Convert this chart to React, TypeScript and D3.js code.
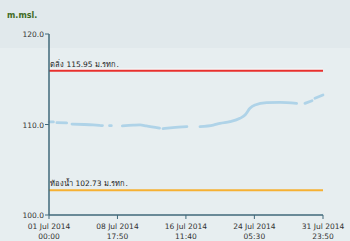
import React from "react";
import * as d3 from "d3";

const W = 350;
const H = 241;

const startDate = new Date(2014, 6, 1, 0, 0);
const endDate = new Date(2014, 6, 31, 23, 50);
const xTickDates = [
  new Date(2014, 6, 1, 0, 0),
  new Date(2014, 6, 8, 17, 50),
  new Date(2014, 6, 16, 11, 40),
  new Date(2014, 6, 24, 5, 30),
  new Date(2014, 6, 31, 23, 50),
];
const yTicks = [100, 110, 120];
const bankLevel = 115.95;
const bedLevel = 102.73;
const bankLabel = "ตลิ่ง 115.95 ม.รทก.";
const bedLabel = "ท้องน้ำ 102.73 ม.รทก.";
const unitLabel = "m.msl.";

// day offsets from 01 Jul 00:00, null = no data
const levelDays: number[] = [
  0, 0.5, 0.6, 0.9, 2.0, 2.1, 2.6, 4.0, 5.0, 5.7, 5.8, 5.85, 6.05, 6.2, 6.85, 7.05, 7.2,
  8.3, 9.5, 10.3, 11.0, 12.5, 12.7, 12.9, 14.0, 15.6, 15.8,
  17.08, 18.58, 19.34, 20.47, 21.6, 22.17, 22.73, 23.3, 24.62, 26.13, 28.01, 28.3,
  28.95, 29.75, 29.9, 30.08, 30.99,
];
const levelValues: (number | null)[] = [
  110.3, 110.28, null, 110.2, 110.17, null, 110.05, 110.0, 109.95, 109.9, null, 109.88, 109.88, null, 109.87, 109.87, null,
  109.85, 109.92, 109.95, 109.85, 109.6, null, 109.55, 109.65, 109.76, null,
  109.76, 109.94, 110.13, 110.31, 110.68, 111.05, 111.79, 112.15, 112.41, 112.45, 112.34, null,
  112.34, 112.63, null, 112.9, 113.26,
];

export default function App() {
  const left = 49;
  const right = 323;
  const top = 34;
  const bottom = 215;

  const x = d3.scaleTime().domain([startDate, endDate]).range([left, right]);
  const y = d3.scaleLinear().domain([100, 120]).range([bottom, top]);

  const pts = levelDays.map((d, i) => ({
    t: new Date(startDate.getTime() + d * 86400000),
    v: levelValues[i],
  }));
  const line = d3
    .line<{ t: Date; v: number | null }>()
    .defined((p) => p.v !== null)
    .x((p) => x(p.t))
    .y((p) => y(p.v as number))
    .curve(d3.curveMonotoneX);

  const fmtD = d3.timeFormat("%d %b %Y");
  const fmtT = d3.timeFormat("%H:%M");
  const font = "DejaVu Sans, Verdana, sans-serif";
  const axisColor = "#41697a";

  return (
    <svg
      width={W}
      height={H}
      style={{ position: "absolute", left: 0, top: 0 }}
      fontFamily={font}
    >
      <rect x={0} y={0} width={W} height={H} fill="#e7eef0" />
      <rect x={0} y={0} width={W} height={48} fill="#e1e9ec" />
      <text x={7} y={18} fontSize={8} fontWeight="bold" fill="#3f6b1f">
        {unitLabel}
      </text>

      {/* reference lines */}
      <line x1={left} x2={right} y1={y(bankLevel) - 1.5} y2={y(bankLevel) - 1.5} stroke="#ffffff" strokeWidth={1} />
      <line x1={left} x2={right} y1={y(bankLevel)} y2={y(bankLevel)} stroke="#e8302e" strokeWidth={2} />
      <text x={left + 1} y={y(bankLevel) - 4} fontSize={7.5} fill="#222">
        {bankLabel}
      </text>
      <line x1={left} x2={right} y1={y(bedLevel)} y2={y(bedLevel)} stroke="#f6b133" strokeWidth={2} />
      <text x={left + 1} y={y(bedLevel) - 4} fontSize={7.5} fill="#222">
        {bedLabel}
      </text>

      {/* data line */}
      <path d={line(pts) || ""} fill="none" stroke="#afd3e8" strokeWidth={2.8} strokeLinecap="round" strokeLinejoin="round" />

      {/* y axis */}
      <line x1={left} x2={left} y1={top} y2={bottom} stroke={axisColor} strokeWidth={1.5} />
      {yTicks.map((t) => (
        <g key={t}>
          <line x1={left - 4} x2={left} y1={y(t)} y2={y(t)} stroke={axisColor} strokeWidth={1} />
          <text x={left - 5} y={y(t) + 3} fontSize={7.5} textAnchor="end" fill="#333">
            {t.toFixed(1)}
          </text>
        </g>
      ))}

      {/* x axis */}
      <line x1={left} x2={right} y1={bottom} y2={bottom} stroke={axisColor} strokeWidth={1.5} />
      {xTickDates.map((d, i) => (
        <g key={i}>
          <line x1={x(d)} x2={x(d)} y1={bottom} y2={bottom + 4} stroke={axisColor} strokeWidth={1} />
          <text x={x(d)} y={bottom + 14} fontSize={7.5} textAnchor="middle" fill="#333">
            {fmtD(d)}
          </text>
          <text x={x(d)} y={bottom + 24} fontSize={7.5} textAnchor="middle" fill="#333">
            {fmtT(d)}
          </text>
        </g>
      ))}
    </svg>
  );
}
